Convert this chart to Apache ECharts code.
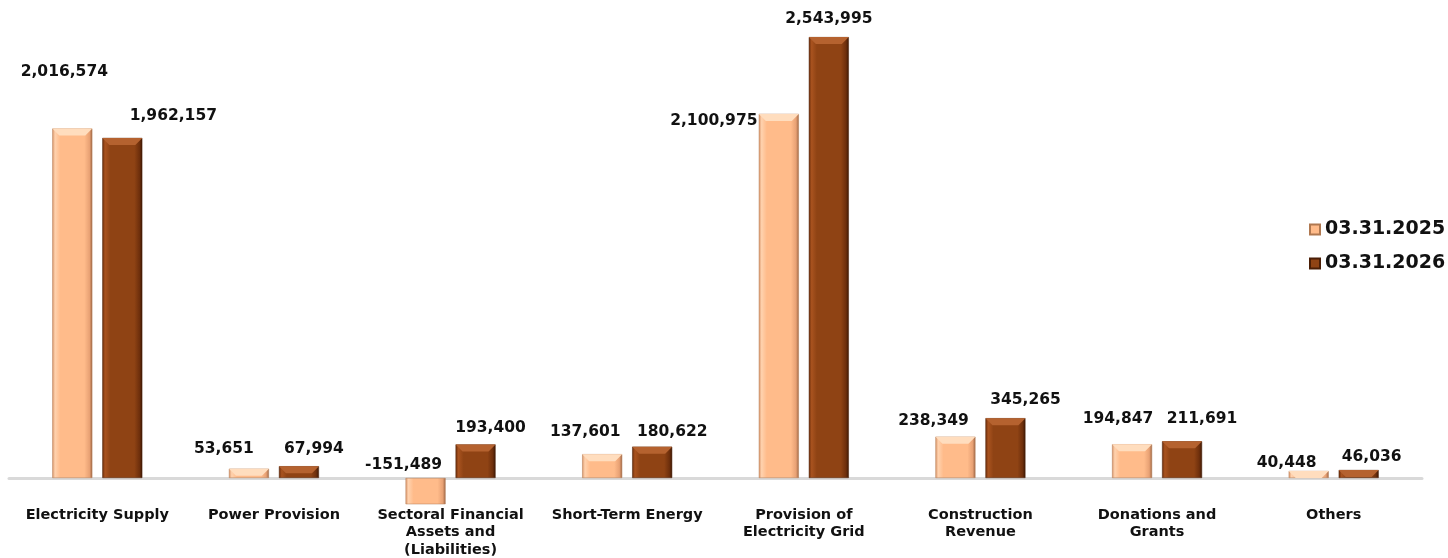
<!DOCTYPE html>
<html>
<head>
<meta charset="utf-8">
<script src="https://cdn.jsdelivr.net/npm/echarts@6/dist/echarts.min.js"></script>
<style>
  html, body { margin: 0; padding: 0; background: #fff; }
  #chart { width: 1448px; height: 558px; }
</style>
</head>
<body>
<div id="chart"></div>
<script>
// categories and values
const categories = [
  'Electricity Supply',
  'Power Provision',
  'Sectoral Financial\nAssets and\n(Liabilities)',
  'Short-Term Energy',
  'Provision of\nElectricity Grid',
  'Construction\nRevenue',
  'Donations and\nGrants',
  'Others'
]
const seriesNames = ['03.31.2025', '03.31.2026']
const values2025 = [2016574, 53651, -151489, 137601, 2100975, 238349, 194847, 40448]
const values2026 = [1962157, 67994, 193400, 180622, 2543995, 345265, 211691, 46036]

// label placement (Excel put them a bit off the bars)
const labelOffsets2025 = [[-8, -44], [-25, -7], [-22, 0], [-17, -9], [-65, 20], [-22, -3], [-14, -12], [-22, 5]]
const labelOffsets2026 = [[51, -9], [15, -4], [15, -4], [20, -2], [0, -5], [20, -5], [20, -9], [13, 0]]

const FONT = '"DejaVu Sans", Verdana, sans-serif'

const fmt = (v) => v.toLocaleString('en-US')

// side shading for the bevelled bars
function sideGradient(edge, light, main, dark, deep) {
  return new echarts.graphic.LinearGradient(0, 0, 1, 0, [
    { offset: 0, color: edge },
    { offset: 0.07, color: light },
    { offset: 0.2, color: main },
    { offset: 0.8, color: main },
    { offset: 0.93, color: dark },
    { offset: 1, color: deep }
  ])
}

const peach = sideGradient('#D99468', '#FFD2AE', '#FFBB8A', '#E8A174', '#9C6544')
const brown = sideGradient('#6A2C0A', '#A9531F', '#8F4314', '#6E2F0C', '#3A1704')

function withLabels(values, offsets) {
  return values.map((v, i) => ({
    value: v,
    label: { offset: offsets[i] }
  }))
}

function capData(values) {
  return values.map(v => (v < 0 ? '-' : v))
}

const capPath = 'path://M0,0 L40,0 L33,7 L7,7 Z'

const chart = echarts.init(document.getElementById('chart'))

const labelStyle = {
  show: true,
  position: 'top',
  distance: 5,
  formatter: (p) => fmt(p.value),
  fontFamily: FONT,
  fontWeight: 'bold',
  fontSize: 15.5,
  color: '#111'
}

chart.setOption({
  animation: false,
  textStyle: { fontFamily: FONT },
  legend: {
    data: seriesNames,
    orient: 'vertical',
    left: 1304,
    top: 215,
    itemWidth: 10,
    itemHeight: 10,
    itemGap: 15,
    icon: 'rect',
    textStyle: {
      fontFamily: FONT,
      fontWeight: 'bold',
      fontSize: 19,
      color: '#111'
    }
  },
  grid: {
    left: 9,
    right: 26,
    top: 20,
    bottom: 38,
    outerBoundsMode: 'none'
  },
  xAxis: {
    type: 'category',
    data: categories,
    axisLine: { onZero: true, lineStyle: { color: '#D9D9D9', width: 3 } },
    axisTick: { show: false },
    axisLabel: {
      interval: 0,
      margin: -14,
      fontFamily: FONT,
      fontWeight: 'bold',
      fontSize: 14.5,
      lineHeight: 17.5,
      color: '#111'
    }
  },
  yAxis: {
    type: 'value',
    min: -242340,
    max: 2642660,
    show: false,
    splitLine: { show: false }
  },
  series: [
    {
      name: seriesNames[0],
      type: 'bar',
      barWidth: 40,
      barGap: '25%',
      data: withLabels(values2025, labelOffsets2025),
      itemStyle: { color: peach, borderColor: '#B07850', borderWidth: 0.5 },
      label: labelStyle
    },
    {
      name: seriesNames[1],
      type: 'bar',
      barWidth: 40,
      barGap: '25%',
      data: withLabels(values2026, labelOffsets2026),
      itemStyle: { color: brown, borderColor: '#4A1E06', borderWidth: 0.5 },
      label: labelStyle
    },
    // top bevel highlight
    {
      name: 'cap1',
      type: 'pictorialBar',
      data: capData(values2025),
      symbol: capPath,
      symbolSize: [40, 7],
      symbolPosition: 'end',
      symbolOffset: [-25, 0],
      itemStyle: { color: '#FFDDBE' },
      z: 3,
      silent: true
    },
    {
      name: 'cap2',
      type: 'pictorialBar',
      data: capData(values2026),
      symbol: capPath,
      symbolSize: [40, 7],
      symbolPosition: 'end',
      symbolOffset: [25, 0],
      itemStyle: { color: '#B5622F' },
      z: 3,
      silent: true
    }
  ]
})
</script>
</body>
</html>
